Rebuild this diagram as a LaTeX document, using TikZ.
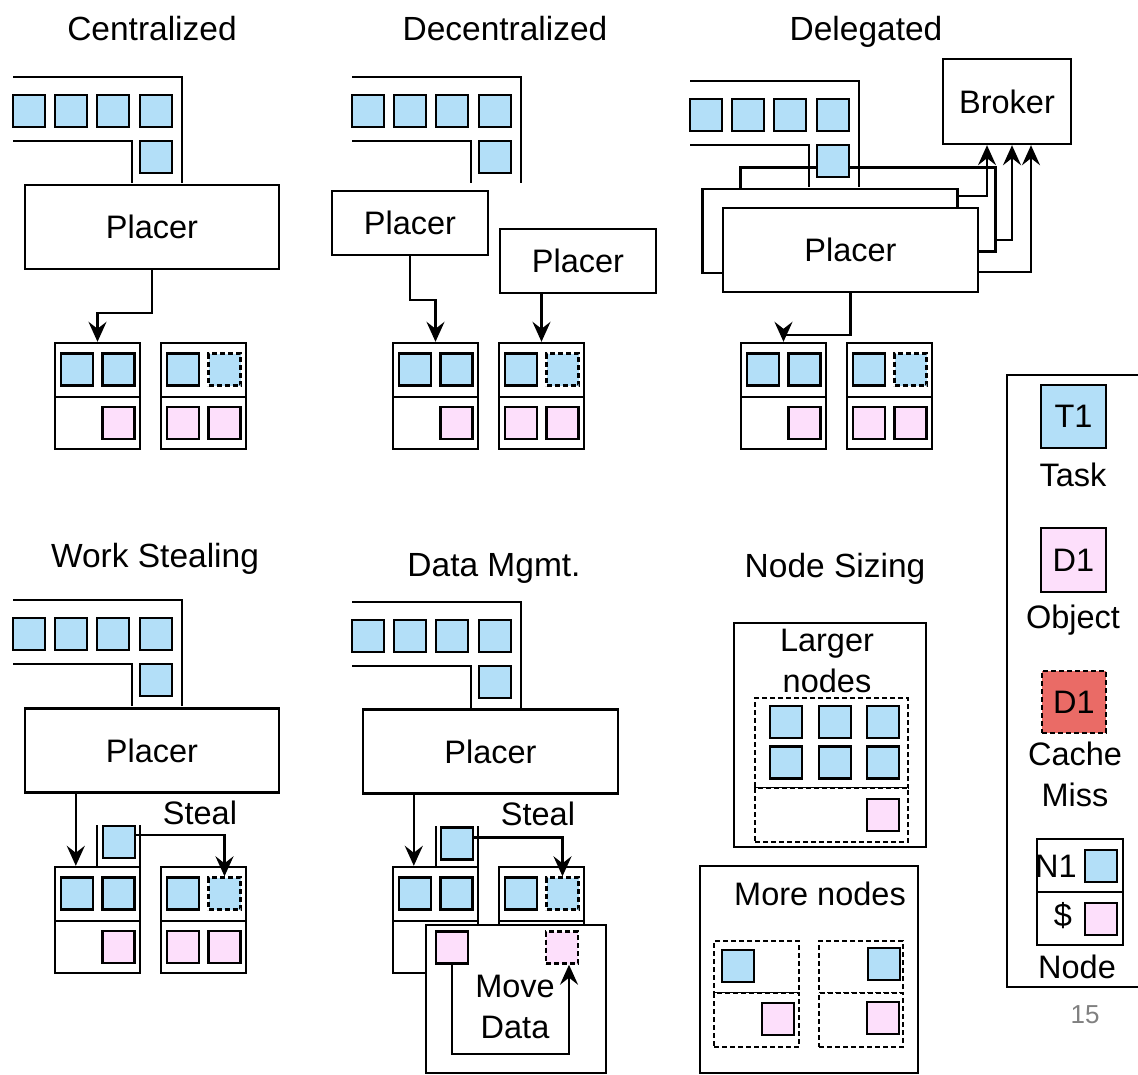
\documentclass[tikz,border=0pt]{standalone}
\usepackage{fontspec}
\setmainfont{Liberation Sans}
\usetikzlibrary{arrows.meta,positioning}
\definecolor{taskblue}{HTML}{B3DFF8}
\definecolor{objpink}{HTML}{FDDFFB}
\definecolor{missred}{HTML}{EA6B66}
\newcommand{\figfont}{\fontsize{32.5}{41}\selectfont}

\begin{document}
\begin{tikzpicture}[
        x=1pt, y=-1pt,
        line width=2.4pt,
        font=\figfont,
        task/.style={draw, fill=taskblue, minimum size=32pt, inner sep=0pt},
        obj/.style={draw, fill=objpink, minimum size=32pt, inner sep=0pt},
        miss/.style={dash pattern=on 5pt off 3pt},
        box/.style={draw, fill=white, inner sep=0pt},
        half/.style={box, minimum width=85pt},
        placer/.style={box, minimum width=255pt, minimum height=84pt},
        title/.style={anchor=base, font=\fontsize{33.5}{40}\selectfont},
        arrow/.style={-{Stealth[length=20pt, width=18pt, inset=7pt]}}
    ]
    \useasboundingbox (0,0) rectangle (1138,1074);

    % titles
    \node[title] (t-c) at (152,40) {Centralized};
    \node[title] (t-d) at (505,40) {Decentralized};
    \node[title] (t-g) at (866,40) {Delegated};
    \node[title] (t-w) at (155,567) {Work Stealing};
    \node[title] (t-m) at (494,576) {Data Mgmt.};
    \node[title] (t-s) at (835,577) {Node Sizing};

    % back copy of the delegated placer
    \node[placer] (g-pl3) at (868,209.5) {};

    % task queues
    \foreach \p/\l/\t in {c/13/77, d/352/77, g/690/81, w/13/600, m/352/602} {
        \draw (\l,\t) -- (\l+169,\t) -- (\l+169,\t+106);
        \draw (\l,\t+64) -- (\l+119,\t+64) -- (\l+119,\t+106);
        \foreach \i/\dx in {1/0, 2/42, 3/84, 4/127}
            \node[task] (\p-q\i) at (\l+\dx+16,\t+34) {};
        \node[task] (\p-q5) at (\l+143,\t+80) {};
    }

    % placers
    \node[placer] (g-pl2) at (830,231) {};
    \node[placer] (g-pl) at (850.5,250) {Placer};
    \node[placer, minimum width=254pt] (c-pl) at (152,227) {Placer};
    \node[box, minimum width=156pt, minimum height=64pt] (d-pl1) at (410,223) {Placer};
    \node[box, minimum width=156pt, minimum height=64pt] (d-pl2) at (578,261) {Placer};
    \node[placer, minimum width=254pt] (w-pl) at (152,750.5) {Placer};
    \node[placer] (m-pl) at (490.5,751.5) {Placer};
    \node[box, minimum width=128pt, minimum height=85pt] (g-br) at (1007,101.5) {Broker};

    % worker nodes
    \foreach \p/\x/\y in {c/55/343, d/393/343, g/741/343, w/55/867, m/393/867} {
        \node[half, minimum height=54pt] (\p-n1) at (\x+42.5,\y+27) {};
        \node[half, minimum height=52pt] (\p-n1b) at (\x+42.5,\y+80) {};
        \node[task] (\p-n1t1) at (\x+22,\y+26.5) {};
        \node[task] (\p-n1t2) at (\x+63.5,\y+26.5) {};
        \node[obj] (\p-n1o) at (\x+63.5,\y+80) {};
        \node[half, minimum height=54pt] (\p-n2) at (\x+148.5,\y+27) {};
        \node[half, minimum height=52pt] (\p-n2b) at (\x+148.5,\y+80) {};
        \node[task] (\p-n2t1) at (\x+128,\y+26.5) {};
        \node[task, miss] (\p-n2t2) at (\x+169.5,\y+26.5) {};
        \node[obj] (\p-n2o1) at (\x+128,\y+80) {};
        \node[obj] (\p-n2o2) at (\x+169.5,\y+80) {};
    }

    % stolen tasks
    \draw (97,825) -- (97,867);
    \draw (140,825) -- (140,867);
    \node[task] (w-st) at (119,842) {};
    \node (w-lb) at (200,813) {Steal};
    \draw (436,826) -- (436,867);
    \draw (478,826) -- (478,867);
    \node[task] (m-st) at (457,843.5) {};
    \node (m-lb) at (538,814) {Steal};

    % data movement
    \node[box, minimum width=180pt, minimum height=148pt] (m-mv) at (516,999) {};
    \node[obj] (m-src) at (452,947.5) {};
    \node[obj, miss] (m-dst) at (562,947.5) {};
    \node[align=center] (m-lbl) at (515,1007) {Move\\Data};

    % connectors
    \draw[arrow] (c-pl.south) -- ++(0,43) -| (c-n1.north);
    \draw[arrow] (d-pl1.south) -- ++(0,44) -| (d-n1.north);
    \draw[arrow] (d-pl2.south -| d-n2.north) -- (d-n2.north);
    \draw[arrow] (g-pl.south) -- ++(0,42) -| (g-n1.north);
    \draw[arrow] ([yshift=-8pt]g-pl2.north east) -| ([xshift=-20pt]g-br.south);
    \draw[arrow] ([yshift=13pt]g-pl3.south east) -| ([xshift=5pt]g-br.south);
    \draw[arrow] ([yshift=21pt]g-pl.south east) -| ([xshift=24pt]g-br.south);
    \coordinate (w-in) at ([xshift=22pt]w-n1.north west);
    \coordinate (m-in) at ([xshift=22pt]m-n1.north west);
    \draw[arrow] (w-in |- w-pl.south) -- (w-in);
    \draw[arrow] (m-in |- m-pl.south) -- (m-in);
    \draw[arrow] ([yshift=7pt]w-st.east) -| (w-n2t2.north);
    \draw[arrow] ([yshift=6pt]m-st.east) -| (m-n2t2.north);
    \draw[arrow] (m-src.south) -- ++(0,89) -| ([xshift=7pt]m-dst.south);

    % node sizing
    \node[box, minimum width=192pt, minimum height=224pt] (s-big) at (830,735) {};
    \node[align=center] (s-lb1) at (827,661) {Larger\\nodes};
    \node[box, miss, minimum width=153pt, minimum height=90pt] (s-a) at (831.5,743) {};
    \node[box, miss, minimum width=153pt, minimum height=54pt] (s-b) at (831.5,815) {};
    \foreach \i/\cx/\cy in {1/786/722, 2/835/722, 3/883/722, 4/786/762.5, 5/835/762.5, 6/883/762.5}
        \node[task] (s-t\i) at (\cx,\cy) {};
    \node[obj] (s-o) at (883,815) {};
    \node[box, minimum width=218pt, minimum height=207pt] (s-more) at (809,969.5) {};
    \node (s-lb2) at (820,894) {More nodes};
    \node[box, miss, minimum width=85pt, minimum height=52pt] (s-c) at (756.5,967) {};
    \node[box, miss, minimum width=85pt, minimum height=54pt] (s-d) at (756.5,1020) {};
    \node[box, miss, minimum width=84pt, minimum height=52pt] (s-e) at (861,967) {};
    \node[box, miss, minimum width=84pt, minimum height=54pt] (s-f) at (861,1020) {};
    \node[task] (s-ct) at (738,966) {};
    \node[obj] (s-do) at (778,1019) {};
    \node[task] (s-et) at (884,964) {};
    \node[obj] (s-fo) at (883,1018) {};

    % legend
    \node[box, minimum width=160pt, minimum height=612pt] (lg) at (1087,681) {};
    \node[task, minimum width=65pt, minimum height=63pt] (lg-t) at (1073.5,416.5) {T1};
    \node (lg-tl) at (1073,475) {Task};
    \node[obj, minimum width=65pt, minimum height=64pt] (lg-o) at (1073.5,560) {D1};
    \node (lg-ol) at (1073,620) {Object};
    \node[draw, fill=missred, miss, minimum width=64pt, minimum height=62pt] (lg-m) at (1074,702) {D1};
    \node[align=center] (lg-ml) at (1075,774) {Cache\\Miss};
    \node[half, minimum width=86pt, minimum height=53pt] (lg-n) at (1080,865.5) {};
    \node[half, minimum width=86pt, minimum height=53pt] (lg-nb) at (1080,918.5) {};
    \node[task] (lg-nt) at (1101,866) {};
    \node[obj] (lg-no) at (1101,919) {};
    \node (lg-n1) at (1056,866) {N1};
    \node (lg-dl) at (1063,916) {\$};
    \node (lg-nl) at (1077,967) {Node};
    \node[text=gray, font=\fontsize{26}{30}\selectfont] (pg) at (1085,1015) {15};
\end{tikzpicture}
\end{document}
